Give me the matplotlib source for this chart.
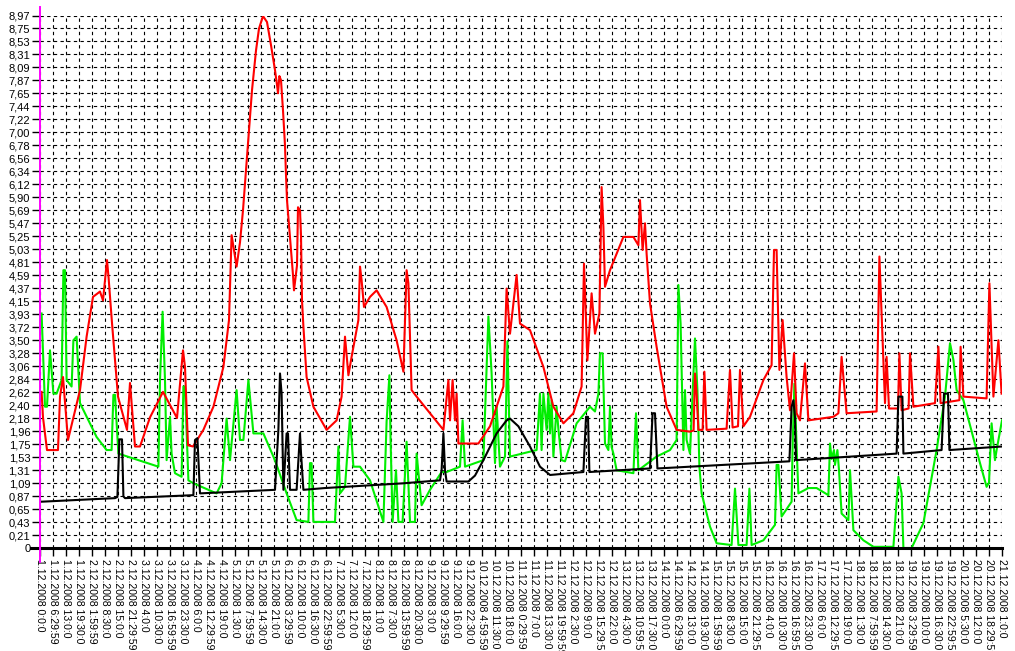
import matplotlib
matplotlib.use("Agg")
import matplotlib.pyplot as plt

# time axis in hours from 1.12.2008 0:00, tick every 6.5 h
x_ticks_h = [i * 6.5 for i in range(75)]
x_tick_labels = [
    "1.12.2008 0:0:0", "1.12.2008 6:29:59", "1.12.2008 13:0:0", "1.12.2008 19:30:0",
    "2.12.2008 1:59:59", "2.12.2008 8:30:0", "2.12.2008 15:0:0", "2.12.2008 21:29:59",
    "3.12.2008 4:0:0", "3.12.2008 10:30:0", "3.12.2008 16:59:59", "3.12.2008 23:30:0",
    "4.12.2008 6:0:0", "4.12.2008 12:29:59", "4.12.2008 19:0:0", "5.12.2008 1:30:0",
    "5.12.2008 7:59:59", "5.12.2008 14:30:0", "5.12.2008 21:0:0", "6.12.2008 3:29:59",
    "6.12.2008 10:0:0", "6.12.2008 16:30:0", "6.12.2008 22:59:59", "7.12.2008 5:30:0",
    "7.12.2008 12:0:0", "7.12.2008 18:29:59", "8.12.2008 1:0:0", "8.12.2008 7:30:0",
    "8.12.2008 13:59:59", "8.12.2008 20:30:0", "9.12.2008 3:0:0", "9.12.2008 9:29:59",
    "9.12.2008 16:0:0", "9.12.2008 22:30:0", "10.12.2008 4:59:59", "10.12.2008 11:30:0",
    "10.12.2008 18:0:0", "11.12.2008 0:29:59", "11.12.2008 7:0:0", "11.12.2008 13:30:0",
    "11.12.2008 19:59:59", "12.12.2008 2:30:0", "12.12.2008 9:0:0", "12.12.2008 15:29:59",
    "12.12.2008 22:0:0", "13.12.2008 4:30:0", "13.12.2008 10:59:59", "13.12.2008 17:30:0",
    "14.12.2008 0:0:0", "14.12.2008 6:29:59", "14.12.2008 13:0:0", "14.12.2008 19:30:0",
    "15.12.2008 1:59:59", "15.12.2008 8:30:0", "15.12.2008 15:0:0", "15.12.2008 21:29:59",
    "16.12.2008 4:0:0", "16.12.2008 10:30:0", "16.12.2008 16:59:59", "16.12.2008 23:30:0",
    "17.12.2008 6:0:0", "17.12.2008 12:29:59", "17.12.2008 19:0:0", "18.12.2008 1:30:0",
    "18.12.2008 7:59:59", "18.12.2008 14:30:0", "18.12.2008 21:0:0", "19.12.2008 3:29:59",
    "19.12.2008 10:0:0", "19.12.2008 16:30:0", "19.12.2008 22:59:59", "20.12.2008 5:30:0",
    "20.12.2008 12:0:0", "20.12.2008 18:29:59", "21.12.2008 1:0:0",
]

y_ticks = [i * 8.97 / 41 for i in range(42)]
y_tick_labels = [
    "0", "0,21", "0,43", "0,65", "0,87", "1,09", "1,31", "1,53", "1,75", "1,96",
    "2,18", "2,40", "2,62", "2,84", "3,06", "3,28", "3,50", "3,72", "3,93", "4,15",
    "4,37", "4,59", "4,81", "5,03", "5,25", "5,47", "5,69", "5,90", "6,12", "6,34",
    "6,56", "6,78", "7,00", "7,22", "7,44", "7,65", "7,87", "8,09", "8,31", "8,53",
    "8,75", "8,97",
]

red_h = [0.8, 1.5, 3.5, 9, 10, 11.5, 14, 20, 23.3, 26.5, 30, 31.5, 33.5, 34.3, 36, 39,
         43.5, 45, 47.5, 50, 55, 61.5, 68.5, 71.5, 72.5, 74, 76.5, 81.7, 86.7, 91.7, 94.5,
         95.8, 98.3, 100, 101.5, 103, 104.5, 106, 108, 109.5, 111.5, 113.5, 115.5, 117.5,
         118.5, 119, 119.7, 120.5, 121.5, 122.5, 123, 123.5, 124.5, 125.5, 126.5, 127,
         128.5, 129, 130, 130.5, 131, 131.7, 133.3, 136.7, 143.3, 148.3, 150.8, 152.5,
         154.2, 155.8, 159.2, 160, 160.8, 162, 165, 168.3, 173.3, 178.3, 181.7, 183.3,
         184.2, 185.8, 188.3, 201.7, 204.2, 205, 206.3, 207.5, 208.3, 209.2, 219.2, 225,
         231.7, 233.3, 235, 238.3, 240, 245, 251.7, 256.7, 261.7, 266.7, 270.8, 272,
         273.7, 275.8, 277.5, 279.7, 280.8, 281.7, 282.5, 285, 291.7, 296.7, 299.2, 300,
         301.3, 302.5, 303.3, 305, 308.3, 313.3, 318.3, 325, 326.8, 327.5, 328.3, 329.2,
         331.3, 332.2, 333.3, 343.3, 345, 346.3, 349, 350, 351.7, 355, 361.7, 365.8,
         367, 368.3, 369.7, 371.3, 373.3, 375, 377, 378.3, 380, 382.5, 384.2, 396.7,
         399.2, 400.8, 403.3, 418.3, 419.7, 421.3, 422.5, 423.3, 424.5, 429, 429.7,
         430.8, 434.3, 435, 436.7, 447.5, 449.2, 450.3, 459.7, 460.3, 461.7, 473.3,
         474.7, 476.7, 479.2, 480.8]
red_v = [2.63, 2.2, 1.65, 1.65, 2.55, 2.88, 1.82, 2.66, 3.56, 4.23, 4.32, 4.17, 4.85, 4.55,
         3.79, 2.55, 1.99, 2.78, 1.71, 1.71, 2.2, 2.63, 2.19, 3.33, 3.05, 1.73, 1.71, 1.99,
         2.38, 3.05, 3.84,
         5.27, 4.74, 5.15, 5.69, 6.36, 7.03, 7.71, 8.38, 8.75, 8.96, 8.86, 8.47, 8.05,
         7.80, 7.66, 7.95, 7.88, 7.37, 6.78, 6.28, 5.86, 5.44, 5.02, 4.60, 4.34,
         4.76, 5.74, 5.69, 5.27, 4.17, 3.73, 2.88, 2.38, 1.99, 2.15, 2.55, 3.56,
         2.91, 3.22, 3.84, 4.74, 4.51, 4.06, 4.23, 4.34, 4.06, 3.50, 2.97, 4.68, 4.46, 2.66,
         2.55, 1.99, 2.83, 2.15, 2.83, 2.15, 2.60, 1.76, 1.76, 2.05, 2.72, 4.37, 3.61, 4.60,
         3.78, 3.67, 3.05, 2.38, 2.10, 2.27, 2.72, 4.79, 3.16, 4.29, 3.61, 3.95, 6.08, 5.41,
         4.40, 4.68, 5.24, 5.24, 5.10, 5.86, 5.02, 5.47, 4.96, 4.12, 3.39, 2.38, 1.99, 1.96,
         1.98, 2.94, 2.6, 1.99, 1.99, 2.97, 1.99, 2.01, 3.00, 2.03, 2.05, 3.00, 2.05, 2.21,
         2.83, 3.08, 5.02, 5.02, 3.00, 3.84, 2.88, 2.32, 3.28, 2.27, 2.15, 3.11, 2.15, 2.21,
         2.27, 3.22, 2.27, 2.30, 4.91, 3.50, 2.44, 3.22, 2.35, 2.35, 3.28, 2.32, 2.35, 3.28,
         2.38, 2.44, 3.39, 2.44, 2.49, 3.39, 2.55, 2.52, 4.46, 2.55, 3.50, 2.60]

green_h = [0.8, 2.5, 3.5, 5, 6.7, 8.3, 10.8, 11.7, 12.5, 13.3, 15.8, 16.7, 18.3, 20, 28.3,
           33.3, 35.8, 36.7, 37.5, 39.2, 59.2, 60, 61.3, 62.5, 63.3, 65, 65.8, 67.5, 70.8,
           71.7, 72.5, 74.2, 76.7, 88.3, 90.8, 93.3, 95, 98.3, 100, 101.7, 104.2, 106.7,
           111.7, 116.7, 118.3, 123.3, 128.3, 134.2, 135, 135.8, 136.7, 147.5, 149.2, 150,
           152.5, 155, 156.7, 160, 165, 171.7, 173.3, 174.7, 175.3, 176.3, 178, 179.2,
           181.3, 183.3, 185, 187.5, 188.3, 190.8, 195, 200.8, 203.3, 210, 211.3, 212.5,
           221.7, 224.2, 225.8, 227.5, 228.3, 230, 232.5, 233.7, 235, 248.3, 250, 250.8,
           251.7, 253.3, 254.2, 255, 255.8, 256.7, 258.3, 259.2, 260.8, 262.5, 268.3, 275,
           277.5, 279.2, 280, 281.3, 282.5, 284.2, 285, 285.8, 286.7, 288.3, 296.7, 298,
           299.2, 308.3, 315, 318.3, 319.2, 320.3, 321.7, 322.5, 323.3, 325, 327.5, 328.7,
           329.7, 330.8, 335, 338.3, 345.8, 347.5, 349.2, 353.3, 354.7, 355.8, 361.7,
           367.5, 368.3, 369.2, 370.8, 375.8, 376.3, 377.2, 378.3, 379.2, 384.2, 388.3,
           394.2, 395, 395.8, 397, 397.5, 398.7, 399.5, 400.8, 404.2, 405, 406.7, 411.7,
           416.7, 426.7, 429.2, 430.8, 431.7, 435.8, 441.7, 448.3, 452.5, 455, 456.7,
           458.3, 461.7, 470, 473.3, 474.5, 475.8, 477.5, 478.3, 481]
green_v = [3.95, 2.38, 2.38, 3.33, 2.60, 2.60, 2.83, 4.68, 4.68, 2.83, 2.72, 3.50, 3.56, 2.44,
           1.87, 1.65, 1.65, 2.58, 2.58, 1.59, 1.37, 2.83, 3.98, 2.83, 1.48, 2.21, 1.59, 1.26,
           1.20, 2.72, 2.72, 1.14, 1.09, 0.92, 1.09, 2.18, 1.48, 2.66, 1.82, 1.82, 2.83, 1.93,
           1.93, 1.54, 1.40, 0.92, 0.47, 0.44, 1.43, 1.43, 0.44, 0.44, 1.71, 0.92, 1.03, 2.21,
           1.37, 1.37, 1.14, 0.44, 2.13, 2.91, 1.82, 0.44, 1.31, 0.44, 0.44, 1.79, 0.44, 0.44,
           1.59, 0.72, 0.98, 1.28, 1.28, 1.37, 2.15, 1.37, 1.48, 3.90, 2.94, 1.43, 2.38, 1.37,
           1.54, 3.48, 1.54, 1.65, 2.60, 1.65, 2.60, 1.99, 2.60, 1.93, 2.49, 1.54, 2.38, 2.0,
           1.48, 1.46, 2.10, 2.38, 2.30, 2.60, 3.28, 3.28, 1.76, 1.65, 2.38, 1.7, 1.59, 1.31,
           1.26, 2.27, 1.31, 1.54, 1.65, 1.82, 4.43, 3.78, 1.65, 2.66, 1.82, 1.59, 3.53, 2.66,
           1.37, 0.92, 0.36, 0.08, 0.05, 1.0, 0.05, 0.05, 1.0, 0.05, 0.13, 0.39, 1.40, 1.40,
           0.53, 0.78, 1.71, 2.77, 1.71, 0.92, 1.01, 1.01, 0.89, 1.76, 1.5, 1.65, 1.4, 1.65,
           1.31, 0.58, 0.47, 1.31, 0.30, 0.13, 0.02, 0.02, 1.20, 0.92, 0.0, 0.0, 0.42, 1.65,
           2.55, 3.45, 3.17, 2.66, 2.49, 1.43, 1.03, 1.1, 2.10, 1.48, 1.65, 2.15]

black_h = [0.8, 37.5, 38.7, 39.7, 41, 41.7, 42.5, 76.7, 77.5, 78.7, 80, 117.5, 119.2, 120,
           120.8, 121.7, 123.3, 124, 125, 128.3, 130, 130.5, 131.7, 142.5, 181.7, 200,
           200.8, 201.7, 202.5, 203.3, 214.2, 217.5, 221.7, 228.3, 233.3, 235, 239.2, 245,
           250, 255, 271.7, 273, 274, 274.7, 305, 306.3, 307.5, 308.7, 374.7, 375.8, 376.7,
           377.5, 378, 428.3, 429.2, 431.2, 431.7, 450.8, 452, 454, 454.7, 481]
black_v = [0.78, 0.84, 0.86, 1.83, 1.83, 0.87, 0.84, 0.89, 1.82, 1.85, 0.92, 0.98, 2.0, 2.94,
           2.6, 0.98, 1.93, 1.93, 0.98, 0.98, 1.93, 1.6, 0.98, 1.01, 1.09, 1.14, 1.31, 1.93,
           1.31, 1.12, 1.12, 1.22, 1.48, 1.93, 2.15, 2.18, 2.05, 1.71, 1.37, 1.23, 1.28, 2.21,
           2.21, 1.28, 1.34, 2.27, 2.27, 1.34, 1.46, 2.38, 2.49, 2.2, 1.48, 1.59, 2.55, 2.55,
           1.59, 1.65, 2.60, 2.60, 1.65, 1.71]

plt.rcParams['font.family'] = ['Liberation Sans', 'DejaVu Sans']

fig = plt.figure(figsize=(10.15, 6.51), dpi=100)
ax = fig.add_axes([40 / 1015, 103 / 651, 962 / 1015, 532.5 / 651])

ax.plot(green_h, green_v, color='#00ee00', lw=1.5, zorder=3)
ax.plot(red_h, red_v, color='#ff0000', lw=1.5, zorder=4)
ax.plot(black_h, black_v, color='black', lw=1.5, zorder=5)

ax.set_xlim(0, 481)
ax.set_ylim(0, 8.97)
ax.set_xticks(x_ticks_h)
ax.set_xticklabels(x_tick_labels, rotation=270, ha='center', va='top', fontsize=7.6)
ax.set_yticks(y_ticks)
ax.set_yticklabels(y_tick_labels, fontsize=8)
ax.tick_params(axis='x', direction='out', length=6, width=1, pad=2)
ax.tick_params(axis='y', direction='out', length=6, width=1, pad=1)

ax.grid(True, color='black', linestyle=(0, (3, 3)), linewidth=0.8)
ax.set_axisbelow(True)
for s in ax.spines.values():
    s.set_visible(False)

# axis lines: thick black zero line and magenta y axis
ax.plot([-0.009, 1.0], [0, 0], transform=ax.transAxes, color='black', lw=2.2,
        clip_on=False, zorder=6)
ax.plot([0, 0], [-0.026, 1.016], transform=ax.transAxes, color='#ff00ff', lw=1.4,
        clip_on=False, zorder=7)

fig.savefig('out.png', dpi=100, facecolor='white')
